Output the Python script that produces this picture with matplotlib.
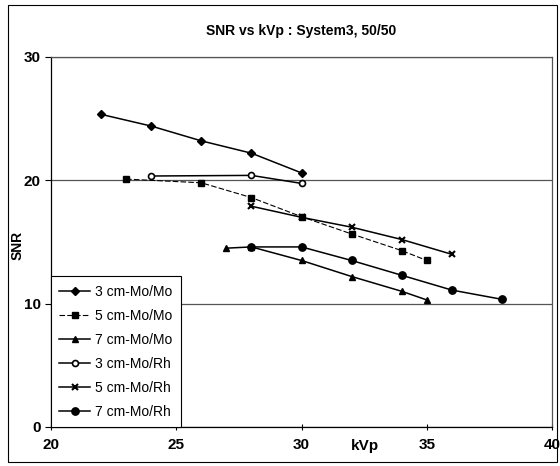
import matplotlib
matplotlib.use("Agg")
import matplotlib.pyplot as plt
from matplotlib.patches import Rectangle

plt.rcParams['font.family'] = ['Liberation Sans', 'DejaVu Sans']

# SNR vs kVp, System3, 50/50
kvp_3mo_mo = [22, 24, 26, 28, 30]
snr_3mo_mo = [25.35, 24.4, 23.2, 22.2, 20.6]

kvp_5mo_mo = [23, 26, 28, 30, 32, 34, 35]
snr_5mo_mo = [20.1, 19.8, 18.6, 17.05, 15.65, 14.3, 13.5]

kvp_7mo_mo = [27, 28, 30, 32, 34, 35]
snr_7mo_mo = [14.5, 14.6, 13.5, 12.2, 11.0, 10.3]

kvp_3mo_rh = [24, 28, 30]
snr_3mo_rh = [20.35, 20.4, 19.75]

kvp_5mo_rh = [28, 30, 32, 34, 36]
snr_5mo_rh = [17.9, 17.0, 16.2, 15.2, 14.0]

kvp_7mo_rh = [28, 30, 32, 34, 36, 38]
snr_7mo_rh = [14.6, 14.6, 13.5, 12.3, 11.1, 10.35]

labels = ['3 cm-Mo/Mo', '5 cm-Mo/Mo', '7 cm-Mo/Mo',
          '3 cm-Mo/Rh', '5 cm-Mo/Rh', '7 cm-Mo/Rh']

fig = plt.figure(figsize=(5.6, 4.66), dpi=100)
ax = fig.add_axes([0.091, 0.0837, 0.895, 0.794])

ax.plot(kvp_3mo_mo, snr_3mo_mo, color='black', lw=1.1, marker='D', ms=3.8, label=labels[0])
ax.plot(kvp_5mo_mo, snr_5mo_mo, color='black', lw=0.8, ls=(0, (5, 2)), marker='s', ms=4.3, label=labels[1])
ax.plot(kvp_7mo_mo, snr_7mo_mo, color='black', lw=1.1, marker='^', ms=4.8, label=labels[2])
ax.plot(kvp_3mo_rh, snr_3mo_rh, color='black', lw=1.1, marker='o', ms=4.3,
        mfc='white', mew=1.2, label=labels[3])
ax.plot(kvp_5mo_rh, snr_5mo_rh, color='black', lw=1.1, marker='x', ms=4.8, mew=1.5, label=labels[4])
ax.plot(kvp_7mo_rh, snr_7mo_rh, color='black', lw=1.1, marker='o', ms=5.3, label=labels[5])

ax.set_xlim(20, 40)
ax.set_ylim(0, 30)
ax.set_xticks([20, 25, 30, 35, 40])
ax.set_yticks([0, 10, 20, 30])
ax.yaxis.grid(True, color='#555555', lw=0.9)
ax.set_axisbelow(True)
ax.tick_params(axis='both', labelsize=11, length=4, width=0.8, color='black')
ax.tick_params(axis='x', direction='inout', pad=6)
for lab in ax.get_xticklabels() + ax.get_yticklabels():
    lab.set_fontweight('bold')
for sp in ax.spines.values():
    sp.set_linewidth(0.9)
ax.spines['top'].set_color('#555555')
ax.spines['right'].set_color('#555555')

ax.set_title('SNR vs kVp : System3, 50/50', fontsize=10, fontweight='bold', pad=16)
fig.text(18 / 560, 1 - 245 / 466, 'SNR', fontsize=10, fontweight='bold',
         rotation=90, ha='center', va='center')
fig.text(365 / 560, 1 - 446 / 466, 'kVp', fontsize=11, fontweight='bold',
         ha='center', va='center')

leg = ax.legend(loc='lower left', bbox_to_anchor=(0.0, 0.0), fontsize=10,
                frameon=True, fancybox=False, edgecolor='black', framealpha=1,
                handlelength=2.2, labelspacing=0.72, borderpad=0.6,
                borderaxespad=0.0, handletextpad=0.4)
leg.get_frame().set_linewidth(0.8)

fig.patches.append(Rectangle((8 / 560, 4 / 466), 549 / 560, 457 / 466,
                             transform=fig.transFigure, fill=False,
                             edgecolor='black', lw=0.8))

fig.savefig('out.png', dpi=100)
